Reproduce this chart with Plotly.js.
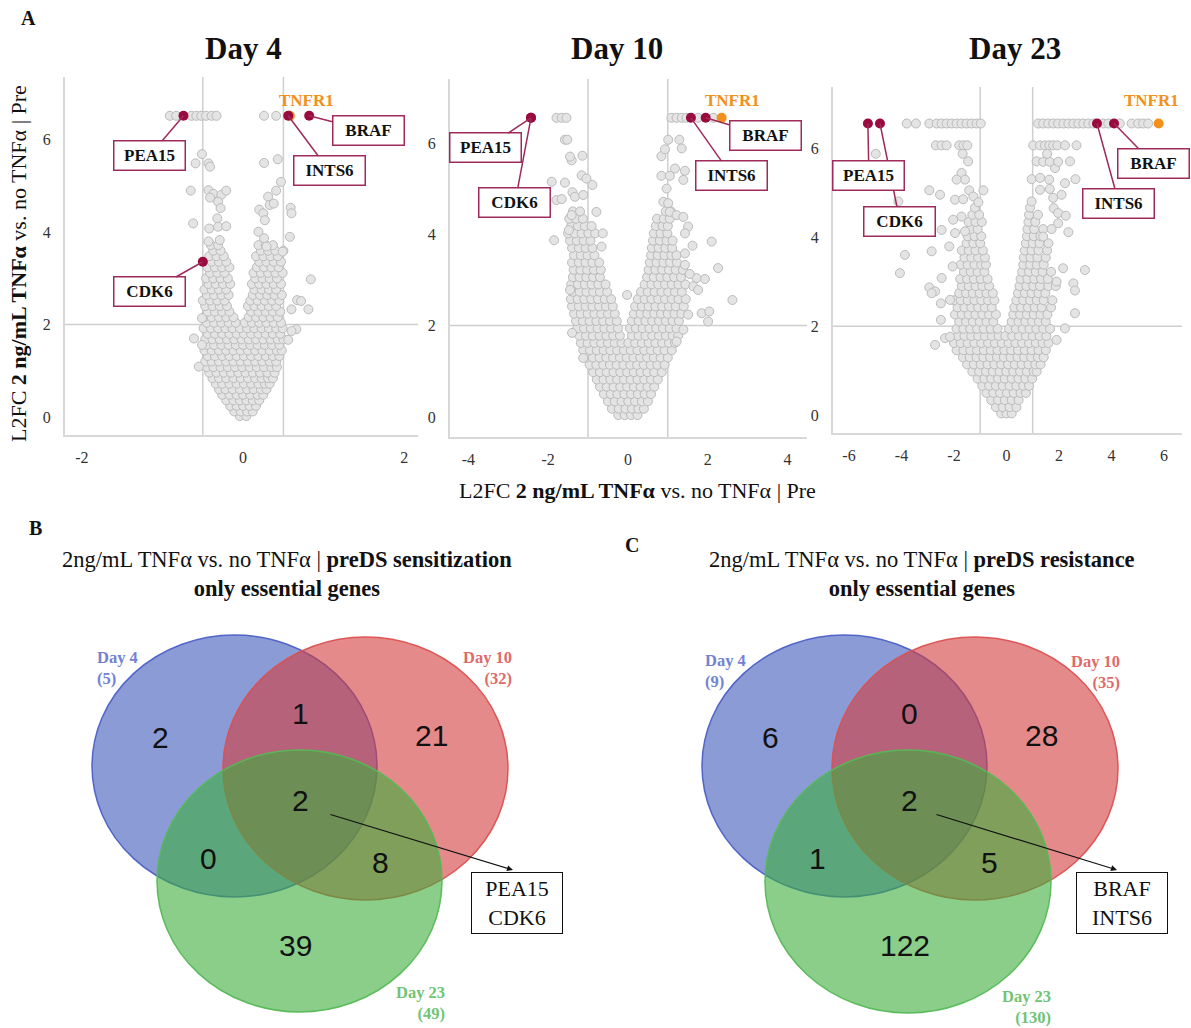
<!DOCTYPE html>
<html><head><meta charset="utf-8">
<script src="https://cdn.plot.ly/plotly-3.0.1.min.js"></script>
<style>body{margin:0;background:#fff}</style>
</head><body>
<div id="chart" style="width:1191px;height:1028px"></div>
<script>
// ---------------- DATA ----------------
const geneNames = ['PEA15', 'CDK6', 'INTS6', 'BRAF'];
const day4XTicks = [-2, 0, 2];
const day10XTicks = [-4, -2, 0, 2, 4];
const day23XTicks = [-6, -4, -2, 0, 2, 4, 6];
const yTicks = [0, 2, 4, 6];

// Day 4 volcano: dense core read row by row [y, [x...]]
const day4Rows = [
 [0.02,[-0.04,0.04]],
 [0.12,[-0.11,-0.03,0.05,0.12]],
 [0.24,[-0.16,-0.08,0.0,0.08,0.16]],
 [0.36,[-0.21,-0.12,-0.04,0.04,0.12,0.2]],
 [0.48,[-0.26,-0.17,-0.08,0.0,0.09,0.18,0.25]],
 [0.6,[-0.3,-0.22,-0.13,-0.04,0.05,0.13,0.22,0.29]],
 [0.72,[-0.34,-0.26,-0.17,-0.08,0.01,0.1,0.19,0.27,0.33]],
 [0.84,[-0.38,-0.3,-0.21,-0.12,-0.03,0.06,0.15,0.23,0.31,0.37]],
 [0.96,[-0.42,-0.33,-0.24,-0.15,-0.06,0.03,0.12,0.21,0.3,0.39]],
 [1.08,[-0.45,-0.37,-0.28,-0.19,-0.1,-0.01,0.08,0.17,0.26,0.35,0.42]],
 [1.2,[-0.47,-0.39,-0.3,-0.21,-0.12,-0.03,0.06,0.15,0.24,0.33,0.41]],
 [1.32,[-0.44,-0.35,-0.26,-0.17,-0.08,0.01,0.1,0.19,0.28,0.37,0.45]],
 [1.44,[-0.48,-0.39,-0.3,-0.21,-0.12,-0.03,0.06,0.15,0.24,0.33,0.42,0.48]],
 [1.56,[-0.45,-0.36,-0.27,-0.18,-0.09,0.0,0.09,0.18,0.27,0.36,0.45]],
 [1.68,[-0.47,-0.38,-0.29,-0.2,-0.11,-0.02,0.07,0.16,0.25,0.34,0.43,0.5]],
 [1.8,[-0.44,-0.35,-0.26,-0.17,-0.08,0.01,0.1,0.19,0.28,0.37,0.46]],
 [1.92,[-0.49,-0.4,-0.31,-0.22,-0.13,-0.04,0.05,0.14,0.23,0.32,0.41,0.49]],
 [2.04,[-0.45,-0.36,-0.27,-0.18,-0.09,0.02,0.11,0.2,0.29,0.38,0.47]],
 [2.16,[-0.48,-0.39,-0.3,-0.21,-0.12,0.07,0.16,0.25,0.34,0.43]],
 [2.28,[-0.44,-0.35,-0.26,-0.17,0.1,0.19,0.28,0.37,0.46]],
 [2.4,[-0.47,-0.38,-0.29,-0.2,0.06,0.14,0.23,0.32,0.41]],
 [2.52,[-0.5,-0.41,-0.32,-0.23,0.09,0.18,0.27,0.36,0.45]],
 [2.64,[-0.45,-0.36,-0.27,-0.18,0.12,0.21,0.3,0.39,0.48]],
 [2.76,[-0.48,-0.39,-0.3,-0.21,0.14,0.23,0.32,0.41]],
 [2.88,[-0.43,-0.34,-0.25,-0.16,0.11,0.2,0.29,0.38,0.47]],
 [3.0,[-0.46,-0.37,-0.28,-0.19,0.15,0.24,0.33,0.42]],
 [3.12,[-0.41,-0.32,-0.23,0.13,0.22,0.31,0.4,0.49]],
 [3.24,[-0.44,-0.35,-0.26,-0.17,0.17,0.26,0.35,0.44]],
 [3.36,[-0.39,-0.3,-0.21,0.2,0.29,0.38,0.47]],
 [3.48,[-0.42,-0.33,-0.24,0.16,0.25,0.34,0.43]],
 [3.6,[-0.37,-0.28,0.22,0.31,0.4,0.5]],
 [3.72,[-0.4,-0.31,0.19,0.28,0.37]]
];
const day4Scatter = [
 [-0.91,6.52],[-0.83,6.52],[-0.64,6.52],[-0.58,6.52],[-0.52,6.52],[-0.46,6.52],[-0.39,6.52],[-0.33,6.52],[0.26,6.52],[0.41,6.52],
 [-0.51,5.69],[-0.59,5.49],[-0.43,5.49],[-0.41,5.42],[-0.65,4.9],[-0.43,4.91],[-0.37,4.83],[-0.27,4.81],[-0.21,4.9],[-0.41,4.75],
 [-0.31,4.66],[-0.28,4.52],[-0.62,4.19],[-0.42,4.08],[-0.32,4.3],[-0.31,4.12],[-0.21,4.13],[-0.43,3.8],[-0.29,3.83],
 [0.26,5.5],[0.43,5.58],[0.47,5.09],[0.41,4.9],[0.31,4.77],[0.33,4.59],[0.38,4.62],[0.59,4.53],[0.6,4.41],[0.2,4.49],[0.25,4.41],
 [0.27,4.26],[0.19,4.01],[0.58,3.9],[0.26,3.87],[0.29,3.69],[0.49,3.58],[0.84,2.98],[0.67,2.53],[0.72,2.51],[0.6,2.33],[0.81,2.33],
 [0.66,1.9],[0.6,1.86],[0.56,1.67],[-0.61,1.7],[-0.51,1.56],[-0.55,1.09],[-0.51,2.14]
];
const day4GeneX = [-0.74, -0.5, 0.56, 0.82];
const day4GeneY = [6.52, 3.36, 6.52, 6.52];
const day4Tnfr1 = [0.58, 6.52];

// Day 10 volcano
const day10Rows = [
 [0.04,[-0.24,-0.08,0.08,0.24]],
 [0.18,[-0.4,-0.23,-0.06,0.1,0.26,0.4]],
 [0.34,[-0.5,-0.33,-0.16,0.01,0.18,0.35,0.5]],
 [0.5,[-0.6,-0.43,-0.26,-0.09,0.08,0.25,0.42,0.58]],
 [0.66,[-0.7,-0.53,-0.36,-0.19,-0.02,0.15,0.32,0.49,0.66]],
 [0.82,[-0.78,-0.61,-0.44,-0.27,-0.1,0.07,0.24,0.41,0.58,0.75]],
 [0.98,[-0.87,-0.7,-0.53,-0.36,-0.19,-0.02,0.15,0.32,0.49,0.66,0.85]],
 [1.14,[-0.96,-0.79,-0.62,-0.45,-0.28,-0.11,0.06,0.23,0.4,0.57,0.74,0.92]],
 [1.3,[-1.05,-0.88,-0.71,-0.54,-0.37,-0.2,-0.03,0.14,0.31,0.48,0.65,0.82,1.0]],
 [1.46,[-1.12,-0.95,-0.78,-0.61,-0.44,-0.27,-0.1,0.07,0.24,0.41,0.58,0.75,0.92,1.1]],
 [1.62,[-1.18,-1.01,-0.84,-0.67,-0.5,-0.33,-0.16,0.01,0.18,0.35,0.52,0.69,0.86,1.03,1.18]],
 [1.78,[-1.22,-1.05,-0.88,-0.71,-0.54,-0.37,-0.2,0.1,0.27,0.44,0.61,0.78,0.95,1.12,1.26]],
 [1.94,[-1.27,-1.1,-0.93,-0.76,-0.59,-0.42,-0.25,0.05,0.2,0.37,0.54,0.71,0.88,1.05,1.22]],
 [2.1,[-1.3,-1.13,-0.96,-0.79,-0.62,-0.45,-0.28,0.1,0.27,0.44,0.61,0.78,0.95,1.12,1.28]],
 [2.26,[-1.35,-1.18,-1.01,-0.84,-0.67,-0.5,-0.33,0.15,0.32,0.49,0.66,0.83,1.0,1.17,1.34]],
 [2.42,[-1.4,-1.23,-1.06,-0.89,-0.72,-0.55,-0.38,0.18,0.35,0.52,0.69,0.86,1.03,1.2,1.4]],
 [2.58,[-1.43,-1.26,-1.09,-0.92,-0.75,-0.58,-0.42,0.25,0.42,0.59,0.76,0.93,1.1,1.27,1.45]],
 [2.74,[-1.38,-1.21,-1.04,-0.87,-0.7,-0.52,0.33,0.5,0.67,0.84,1.01,1.18,1.35]],
 [2.9,[-1.42,-1.25,-1.08,-0.91,-0.74,-0.56,0.42,0.59,0.76,0.93,1.1,1.27,1.44]],
 [3.06,[-1.38,-1.21,-1.04,-0.87,-0.7,0.48,0.65,0.82,0.99,1.16,1.33]],
 [3.22,[-1.36,-1.19,-1.02,-0.85,-0.68,0.52,0.69,0.86,1.03,1.2,1.38]],
 [3.38,[-1.4,-1.23,-1.06,-0.89,-0.72,0.55,0.72,0.89,1.06,1.23]],
 [3.54,[-1.35,-1.18,-1.01,-0.84,0.58,0.75,0.92,1.09,1.22]],
 [3.7,[-1.4,-1.23,-1.06,-0.89,0.6,0.77,0.94,1.11]],
 [3.86,[-1.45,-1.28,-1.11,-0.94,0.63,0.8,0.97,1.12]],
 [4.02,[-1.5,-1.33,-1.16,-0.99,-0.82,0.65,0.82,0.99]],
 [4.18,[-1.42,-1.25,-1.08,-0.91,0.7,0.87,1.0]],
 [4.34,[-1.47,-1.3,-1.13,0.73,0.9,1.05]],
 [4.5,[-1.38,-1.2,0.95,1.08]]
];
const day10Scatter = [
 [-1.85,3.87],[-1.91,5.15],[-1.58,5.13],[-1.79,4.75],[-1.66,4.77],[-1.39,4.92],[-1.33,4.82],[-1.12,4.86],[-1.41,5.62],[-1.45,5.7],
 [-1.14,5.72],[-1.16,5.29],[-1.04,5.22],[-0.89,5.08],[-1.58,6.07],[-1.52,6.07],[-1.79,6.55],[-1.66,6.55],[-1.54,6.55],[-0.79,4.49],
 [-0.63,4.02],[-0.66,3.73],[-1.41,4.42],[-1.48,4.09],[-1.45,2.78],[-1.4,1.84],[-1.12,1.29],[-0.02,2.67],
 [1.09,6.55],[1.22,6.55],[1.35,6.55],[1.47,6.55],[1.76,6.55],[2.14,6.55],
 [1.01,6.07],[1.29,6.07],[0.84,5.71],[0.93,5.86],[1.35,5.88],[0.84,5.28],[1.05,5.28],[1.18,5.44],[1.43,5.39],[1.39,5.19],
 [0.97,5.0],[0.89,4.71],[1.01,4.68],[1.05,4.49],[1.22,4.42],[1.39,4.38],[1.51,4.17],[1.43,4.02],[2.1,3.84],[1.62,3.75],
 [1.43,3.58],[2.26,3.26],[1.43,3.33],[1.93,3.02],[1.72,3.04],[1.55,3.13],[1.64,2.86],[1.76,2.78],[2.62,2.56],[1.85,2.27],
 [2.04,2.31],[2.01,2.09],[1.39,1.91],[1.51,2.24],[1.22,1.65]
];
const day10GeneX = [-2.43, -2.43, 1.58, 1.95];
const day10GeneY = [6.55, 6.55, 6.55, 6.55];
const day10Tnfr1 = [2.35, 6.55];

// Day 23 volcano
const day23Rows = [
 [0.04,[-0.2,0.0,0.2]],
 [0.18,[-0.4,-0.14,0.12,0.38]],
 [0.34,[-0.58,-0.32,-0.06,0.2,0.46]],
 [0.5,[-0.76,-0.5,-0.24,0.02,0.28,0.54,0.74]],
 [0.66,[-0.92,-0.66,-0.4,-0.14,0.12,0.38,0.64,0.86]],
 [0.82,[-1.1,-0.84,-0.58,-0.32,-0.06,0.2,0.46,0.72,0.98]],
 [0.98,[-1.3,-1.04,-0.78,-0.52,-0.26,0.0,0.26,0.52,0.78,1.04,1.15]],
 [1.14,[-1.5,-1.24,-0.98,-0.72,-0.46,-0.2,0.06,0.32,0.58,0.84,1.1,1.3]],
 [1.3,[-1.66,-1.4,-1.14,-0.88,-0.62,-0.36,-0.1,0.16,0.42,0.68,0.94,1.2,1.42]],
 [1.46,[-1.9,-1.64,-1.38,-1.12,-0.86,-0.6,-0.34,-0.08,0.18,0.44,0.7,0.96,1.22,1.5]],
 [1.62,[-2.0,-1.74,-1.48,-1.22,-0.96,-0.7,-0.44,-0.18,0.08,0.34,0.6,0.86,1.12,1.38,1.6]],
 [1.78,[-1.86,-1.6,-1.34,-1.08,-0.82,-0.56,-0.3,-0.04,0.22,0.48,0.74,1.0,1.26,1.52]],
 [1.94,[-1.9,-1.64,-1.38,-1.12,-0.86,-0.6,-0.34,0.1,0.36,0.62,0.88,1.14,1.4,1.66]],
 [2.1,[-1.8,-1.54,-1.28,-1.02,-0.76,-0.5,0.2,0.46,0.72,0.98,1.24,1.5]],
 [2.26,[-1.96,-1.7,-1.44,-1.18,-0.92,-0.66,-0.4,0.26,0.52,0.78,1.04,1.3,1.56]],
 [2.42,[-1.86,-1.6,-1.34,-1.08,-0.82,-0.56,0.3,0.56,0.82,1.08,1.34,1.7]],
 [2.58,[-2.0,-1.74,-1.48,-1.22,-0.96,-0.7,-0.46,0.38,0.64,0.9,1.16,1.42,1.75]],
 [2.74,[-1.8,-1.54,-1.28,-1.02,-0.76,-0.52,0.44,0.7,0.96,1.22,1.48]],
 [2.9,[-1.7,-1.44,-1.18,-0.92,-0.66,0.5,0.76,1.02,1.28,1.6,1.88]],
 [3.06,[-1.76,-1.5,-1.24,-0.98,-0.72,0.54,0.8,1.06,1.32,1.58]],
 [3.22,[-1.62,-1.36,-1.1,-0.84,0.6,0.86,1.12,1.38,1.7]],
 [3.38,[-1.74,-1.48,-1.22,-0.96,-0.78,0.64,0.9,1.16,1.42]],
 [3.54,[-1.6,-1.34,-1.08,-0.82,0.66,0.92,1.18,1.5]],
 [3.7,[-1.7,-1.44,-1.18,-0.9,0.7,0.96,1.22,1.55]],
 [3.86,[-1.52,-1.26,-1.0,0.74,1.0,1.26,1.6]],
 [4.02,[-1.48,-1.22,-0.96,0.78,1.04,1.3]],
 [4.18,[-1.36,-1.1,0.8,1.06,1.4]],
 [4.34,[-1.44,-1.18,-0.94,0.84,1.1]],
 [4.5,[-1.3,-1.04,0.86,1.2]],
 [4.66,[-1.2,0.9]]
];
const day23Scatter = [
 [-3.8,6.55],[-3.45,6.55],[-2.94,6.55],[-2.66,6.55],[-2.47,6.55],[-2.28,6.55],[-2.09,6.55],[-1.9,6.55],[-1.71,6.55],[-1.52,6.55],[-1.33,6.55],[-1.14,6.55],[-0.98,6.55],
 [1.21,6.55],[1.4,6.55],[1.59,6.55],[1.78,6.55],[1.97,6.55],[2.17,6.55],[2.36,6.55],[2.55,6.55],[2.74,6.55],[2.93,6.55],[3.12,6.55],[3.31,6.55],
 [3.69,6.55],[3.88,6.55],[4.32,6.55],[4.77,6.55],[5.02,6.55],[5.21,6.55],[5.4,6.55],
 [-2.69,6.06],[-2.47,6.06],[-2.28,6.06],[-1.8,6.06],[-1.64,6.06],[-1.49,6.06],
 [1.02,6.06],[1.28,6.06],[1.47,6.06],[1.63,6.06],[1.78,6.06],[1.94,6.06],[2.23,6.06],[2.67,6.06],
 [-4.98,5.87],[-1.67,5.87],[-1.46,5.7],[-1.71,5.44],[-1.58,5.29],[-1.9,5.29],[-1.42,5.05],[-0.88,5.05],[-2.94,5.05],[-2.53,4.95],
 [-1.96,4.84],[-1.65,4.85],[-1.26,4.91],[-1.07,4.78],[-4.12,4.8],[-2.03,4.39],[-1.71,4.46],[-2.47,4.16],[-1.96,4.09],[-2.18,3.79],
 [-1.58,4.13],[-3.87,3.6],[-4.06,3.19],[-2.85,3.68],[-2.05,3.34],[-2.47,3.08],[-2.94,2.87],[-2.72,2.78],[-2.85,2.74],[-2.5,2.51],
 [-2.15,2.59],[-2.5,2.14],[-2.72,1.58],[-2.34,1.73],[-2.15,1.76],
 [0.96,5.3],[1.28,5.33],[1.63,5.29],[1.85,5.55],[2.23,5.21],[2.63,5.3],[1.15,5.7],[1.4,5.69],[1.65,5.69],[1.97,5.69],[2.42,5.7],
 [1.55,5.87],[0.96,4.8],[1.28,5.06],[1.65,5.08],[1.78,4.88],[2.1,4.95],[1.8,4.65],[1.97,4.54],[2.26,4.48],[1.97,4.31],[2.36,4.11],
 [1.72,4.18],[1.4,4.01],[2.16,3.3],[2.99,3.26],[2.55,2.96],[2.61,2.8],[1.91,3.0],[2.61,2.29],[2.23,1.95],[1.91,1.69]
];
const day23GeneX = [-5.28, -4.82, 3.45, 4.1];
const day23GeneY = [6.55, 6.55, 6.55, 6.55];
const day23Tnfr1 = [5.8, 6.55];

// Venn diagrams: [D4 only, D10 only, D23 only, D4&D10, D4&D23, D10&D23, all three]
const vennSetNames = ['Day 4', 'Day 10', 'Day 23'];
const vennBCounts = [2, 21, 39, 1, 0, 8, 2];
const vennBTotals = [5, 32, 49];
const vennBShared = ['PEA15', 'CDK6'];
const vennCCounts = [6, 28, 122, 0, 1, 5, 2];
const vennCTotals = [9, 35, 130];
const vennCShared = ['BRAF', 'INTS6'];

// ---------------- BUILD ----------------
const W = 1191, H = 1028;
const SERIF = 'Liberation Serif, Times New Roman, serif';
const SANS = 'Liberation Sans, Arial, sans-serif';
const MAROON = '#990a3d', ORANGE = '#f39019', BOXLINE = '#9e2b5b';

function flat(rows, extra) {
  const xs = [], ys = [];
  rows.forEach(r => r[1].forEach(x => { xs.push(x); ys.push(r[0]); }));
  extra.forEach(p => { xs.push(p[0]); ys.push(p[1]); });
  return [xs, ys];
}
const traces = [];
function addPanel(rows, scat, gx, gy, tn, xa, ya) {
  const [xs, ys] = flat(rows, scat);
  traces.push({type:'scatter', mode:'markers', x:xs, y:ys, xaxis:xa, yaxis:ya, hoverinfo:'skip',
    marker:{size:9, color:'#e4e4e4', line:{color:'#bbbbbb', width:1}}});
  traces.push({type:'scatter', mode:'markers', x:[tn[0]], y:[tn[1]], xaxis:xa, yaxis:ya,
    marker:{size:10, color:ORANGE}});
  traces.push({type:'scatter', mode:'markers', x:gx, y:gy, text:geneNames, xaxis:xa, yaxis:ya,
    marker:{size:10, color:MAROON}});
}
addPanel(day4Rows, day4Scatter, day4GeneX, day4GeneY, day4Tnfr1, 'x', 'y');
addPanel(day10Rows, day10Scatter, day10GeneX, day10GeneY, day10Tnfr1, 'x2', 'y2');
addPanel(day23Rows, day23Scatter, day23GeneX, day23GeneY, day23Tnfr1, 'x3', 'y3');
traces.push({type:'scatter', x:[], y:[], xaxis:'x4', yaxis:'y4', showlegend:false});

const tickLabel = v => String(v).replace('\u2212', '-');
function xAx(px0, px1, range, anchor, tv) {
  return {domain:[px0/W, px1/W], range:range, anchor:anchor, tickmode:'array', tickvals:tv,
    ticktext:tv.map(tickLabel), ticks:'',
    showline:true, linecolor:'#d8d8d8', linewidth:2, showgrid:false, zeroline:false,
    tickfont:{family:SERIF, size:16, color:'#333'}, ticklabelstandoff:7, fixedrange:true};
}
function yAx(py0, py1, range, anchor) {
  return {domain:[1-py1/H, 1-py0/H], range:range, anchor:anchor, tickmode:'array', tickvals:yTicks,
    ticktext:yTicks.map(tickLabel), ticks:'',
    showline:true, linecolor:'#d8d8d8', linewidth:2, showgrid:false, zeroline:false,
    tickfont:{family:SERIF, size:16, color:'#333'}, ticklabelstandoff:9, fixedrange:true};
}

const shapes = [];
function thresh(xa, ya, xv) {
  xv.forEach(v => shapes.push({type:'line', xref:xa, yref:ya+' domain', x0:v, x1:v, y0:0, y1:1,
    line:{color:'#cfcfcf', width:1.5}, layer:'below'}));
  shapes.push({type:'line', xref:xa+' domain', yref:ya, x0:0, x1:1, y0:2, y1:2,
    line:{color:'#cfcfcf', width:1.5}, layer:'below'});
}
thresh('x', 'y', [-0.5, 0.5]);
thresh('x2', 'y2', [-1, 1]);
thresh('x3', 'y3', [-1, 1]);

const ann = [];
function txt(x, y, text, size, opts) {
  ann.push(Object.assign({xref:'x4', yref:'y4', x:x, y:y, text:text, showarrow:false,
    font:{family:SERIF, size:size, color:'#111'}}, opts || {}));
}
function geneLabel(xa, ya, x, y, name, ax, ay) {
  ann.push({xref:xa, yref:ya, x:x, y:y, text:'<b>'+name+'</b>', showarrow:true, arrowhead:0,
    arrowwidth:1.5, arrowcolor:BOXLINE, ax:ax, ay:ay, standoff:0, startstandoff:0,
    bordercolor:BOXLINE, borderwidth:1.5, borderpad:1, bgcolor:'#fff', width:68, height:26,
    font:{family:SERIF, size:17, color:'#111'}});
}

// panel letters & titles
txt(28, 18, '<b>A</b>', 20);
txt(243, 48, '<b>Day 4</b>', 31);
txt(617, 48, '<b>Day 10</b>', 31);
txt(1015, 48, '<b>Day 23</b>', 31);
txt(18, 264, 'L2FC <b>2 ng/mL TNFα</b> vs. no TNFα | Pre', 22, {textangle:-90});
txt(637, 490, 'L2FC <b>2 ng/mL TNFα</b> vs. no TNFα | Pre', 22);
txt(306, 100, '<b>TNFR1</b>', 17, {font:{family:SERIF, size:17, color:ORANGE}});
txt(732, 100, '<b>TNFR1</b>', 17, {font:{family:SERIF, size:17, color:ORANGE}});
txt(1151, 100, '<b>TNFR1</b>', 17, {font:{family:SERIF, size:17, color:ORANGE}});

// gene labels
geneLabel('x','y', day4GeneX[1], day4GeneY[1], geneNames[1], -53, 30);
geneLabel('x','y', day4GeneX[0], day4GeneY[0], geneNames[0], -34, 40);
geneLabel('x','y', day4GeneX[2], day4GeneY[2], geneNames[2], 41, 55);
geneLabel('x','y', day4GeneX[3], day4GeneY[3], geneNames[3], 59, 15);
geneLabel('x2','y2', day10GeneX[1], day10GeneY[1], geneNames[1], -16, 85);
geneLabel('x2','y2', day10GeneX[0], day10GeneY[0], geneNames[0], -45, 30);
geneLabel('x2','y2', day10GeneX[2], day10GeneY[2], geneNames[2], 41, 58);
geneLabel('x2','y2', day10GeneX[3], day10GeneY[3], geneNames[3], 60, 18);
geneLabel('x3','y3', day23GeneX[1], day23GeneY[1], geneNames[1], 20, 98);
geneLabel('x3','y3', day23GeneX[0], day23GeneY[0], geneNames[0], 1, 52);
geneLabel('x3','y3', day23GeneX[2], day23GeneY[2], geneNames[2], 22, 80);
geneLabel('x3','y3', day23GeneX[3], day23GeneY[3], geneNames[3], 39, 40);

// Venn diagrams
const vennFill = ['rgba(60,88,187,0.6)', 'rgba(212,60,60,0.6)', 'rgba(60,173,60,0.6)'];
const vennLine = ['rgba(75,95,200,0.95)', 'rgba(220,80,80,0.95)', 'rgba(85,185,85,0.95)'];
const vennLabelColor = ['#7282d6', '#e06a6a', '#72c472'];
function venn(cfg, counts, totals, shared) {
  cfg.circles.forEach((c, i) => shapes.push({type:'circle', xref:'x4', yref:'y4',
    x0:c[0], x1:c[1], y0:c[2], y1:c[3], fillcolor:vennFill[i], line:{color:vennLine[i], width:1.5}}));
  counts.forEach((n, i) => txt(cfg.counts[i][0], cfg.counts[i][1], String(n), 30,
    {font:{family:SANS, size:30, color:'#111'}}));
  totals.forEach((t, i) => txt(cfg.labels[i][0], cfg.labels[i][1], '<b>'+vennSetNames[i]+'<br>('+t+')</b>', 16,
    {xanchor:cfg.labels[i][2], align:cfg.labels[i][2], font:{family:SERIF, size:16.5, color:vennLabelColor[i]}}));
  ann.push({xref:'x4', yref:'y4', axref:'x4', ayref:'y4', x:cfg.arrow[2], y:cfg.arrow[3],
    ax:cfg.arrow[0], ay:cfg.arrow[1], text:'', showarrow:true, arrowhead:2, arrowsize:1,
    arrowwidth:1.2, arrowcolor:'#111'});
  txt(cfg.box[0], cfg.box[1], shared.join('<br>'), 22, {bordercolor:'#111', borderwidth:1,
    bgcolor:'#fff', width:86, height:56, borderpad:2});
  txt(cfg.letter[0], cfg.letter[1], '<b>'+cfg.letter[2]+'</b>', 20);
  txt(cfg.title[0], cfg.title[1], cfg.title[2], 22.5);
}
venn({circles:[[92,377,635,897],[223,508,637,900],[157,442,750,1012]],
  counts:[[160,737],[431,735],[295,945],[300,713],[208,858],[380,862],[300,800]],
  labels:[[95,668,'left'],[514,668,'right'],[447,1003,'right']],
  arrow:[329,814,513,870], box:[517,903], letter:[35,528,'B'],
  title:[287,574,'2ng/mL TNFα vs. no TNFα | <b>preDS sensitization</b><br><b>only essential genes</b>']},
  vennBCounts, vennBTotals, vennBShared);
venn({circles:[[702,987,635,897],[832,1118,637,900],[765,1051,750,1013]],
  counts:[[770,737],[1041,735],[905,945],[909,713],[817,858],[989,862],[909,800]],
  labels:[[703,671,'left'],[1122,672,'right'],[1053,1007,'right']],
  arrow:[935,814,1117,870], box:[1122,903], letter:[632,545,'C'],
  title:[922,574,'2ng/mL TNFα vs. no TNFα | <b>preDS resistance</b><br><b>only essential genes</b>']},
  vennCCounts, vennCTotals, vennCShared);

const layout = {
  width:W, height:H, margin:{l:0, r:0, t:0, b:0}, showlegend:false,
  paper_bgcolor:'#fff', plot_bgcolor:'rgba(0,0,0,0)',
  xaxis: xAx(65, 418, [-2.21, 2.17], 'y', day4XTicks),
  yaxis: yAx(77, 435, [-0.39, 7.36], 'x'),
  xaxis2: xAx(450, 807, [-4.46, 4.49], 'y2', day10XTicks),
  yaxis2: yAx(79, 437, [-0.44, 7.4], 'x2'),
  xaxis3: xAx(833, 1182, [-6.61, 6.69], 'y3', day23XTicks),
  yaxis3: yAx(87, 433, [-0.4, 7.37], 'x3'),
  xaxis4: {domain:[0,1], range:[0,W], visible:false, fixedrange:true, anchor:'y4'},
  yaxis4: {domain:[0,1], range:[H,0], visible:false, fixedrange:true, anchor:'x4'},
  shapes: shapes, annotations: ann,
  hovermode:false
};
Plotly.newPlot('chart', traces, layout, {displayModeBar:false, staticPlot:true});
</script>
</body></html>
